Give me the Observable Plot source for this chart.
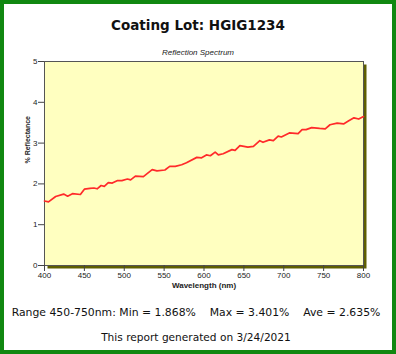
<!DOCTYPE html>
<html><head><meta charset="utf-8">
<script src="https://cdn.jsdelivr.net/npm/d3@7"></script>
<script src="https://cdn.jsdelivr.net/npm/@observablehq/plot@0.6"></script>
<style>
body{margin:0;width:396px;height:354px;overflow:hidden;background:#fff;position:relative;font-family:"DejaVu Sans",Verdana,sans-serif;color:#111}
#frame{position:absolute;left:0;top:0;width:396px;height:354px;box-sizing:border-box;border:4px solid #118811;pointer-events:none}
.t{position:absolute;left:0;width:396px;text-align:center;white-space:nowrap}
#title{top:17px;font-weight:bold;font-size:13.5px}
#sub{top:48px;font-family:"Liberation Sans",Arial,sans-serif;font-style:italic;font-size:8px;color:#222}
#l1{top:306px;left:-2px;font-size:10.85px}
#l2{top:331px;left:-2px;font-size:10.6px}
#chart{position:absolute;left:0;top:0}
</style></head>
<body>
<div id="chart"></div>
<div class="t" id="title">Coating Lot: HGIG1234</div>
<div class="t" id="sub">Reflection Spectrum</div>
<div class="t" id="l1">Range 450-750nm: Min = 1.868%&nbsp;&nbsp;&nbsp;&nbsp;Max = 3.401%&nbsp;&nbsp;&nbsp;&nbsp;Ave = 2.635%</div>
<div class="t" id="l2">This report generated on 3/24/2021</div>
<div id="frame"></div>
<script>
const wavelength = [400,405,414,424,429,435,445,450,457,462,466,471,475,480,485,491,497,504,508,514,524,535,541,551,557,564,572,578,591,597,603,608,614,618,624,635,639,645,655,662,670,674,682,687,693,697,707,718,723,728,735,745,752,758,767,775,781,788,794,800];
const reflectance = [1.58,1.56,1.69,1.75,1.70,1.76,1.74,1.87,1.89,1.90,1.88,1.96,1.94,2.03,2.02,2.08,2.08,2.12,2.10,2.19,2.18,2.35,2.32,2.34,2.43,2.43,2.47,2.52,2.65,2.64,2.71,2.69,2.78,2.71,2.74,2.84,2.82,2.94,2.90,2.92,3.06,3.02,3.08,3.06,3.17,3.15,3.25,3.23,3.33,3.33,3.38,3.36,3.35,3.45,3.49,3.47,3.54,3.62,3.59,3.65];
const xTicks = [400,450,500,550,600,650,700,750,800];
const yTicks = [0,1,2,3,4,5];
const xLabel = "Wavelength (nm)";
const yLabel = "% Reflectance";

const data = wavelength.map((w,i)=>({w, r: reflectance[i]}));

const chart = Plot.plot({
  width: 396, height: 300,
  marginLeft: 44, marginRight: 33, marginTop: 61, marginBottom: 35,
  style: {fontFamily: "'Liberation Sans', Arial, sans-serif", fontSize: "8px", background: "transparent", overflow: "visible", color: "#222"},
  x: {domain: [400, 800]},
  y: {domain: [0, 5]},
  marks: [
    Plot.frame({fill: "#5e5e00", dx: 3, dy: 3}),
    Plot.frame({fill: "#ffffc0", stroke: "#555", strokeWidth: 1}),
    Plot.line(data, {x: "w", y: "r", stroke: "#ff2a2a", strokeWidth: 1.7, curve: "linear"}),
    Plot.axisX({ticks: xTicks, tickFormat: "d", tickSize: 6, tickPadding: 1, label: null, stroke: "#444"}),
    Plot.axisY({ticks: yTicks, tickFormat: "d", tickSize: 6, tickPadding: 1, label: null, stroke: "#444"}),
    Plot.text([xLabel], {frameAnchor: "bottom", dy: 22, fontWeight: "bold", fill: "#222"}),
    Plot.text([yLabel], {frameAnchor: "left", dx: -17, rotate: -90, fontWeight: "bold", fill: "#222", fontSize: 7})
  ]
});
document.getElementById("chart").appendChild(chart);
</script>
</body></html>
